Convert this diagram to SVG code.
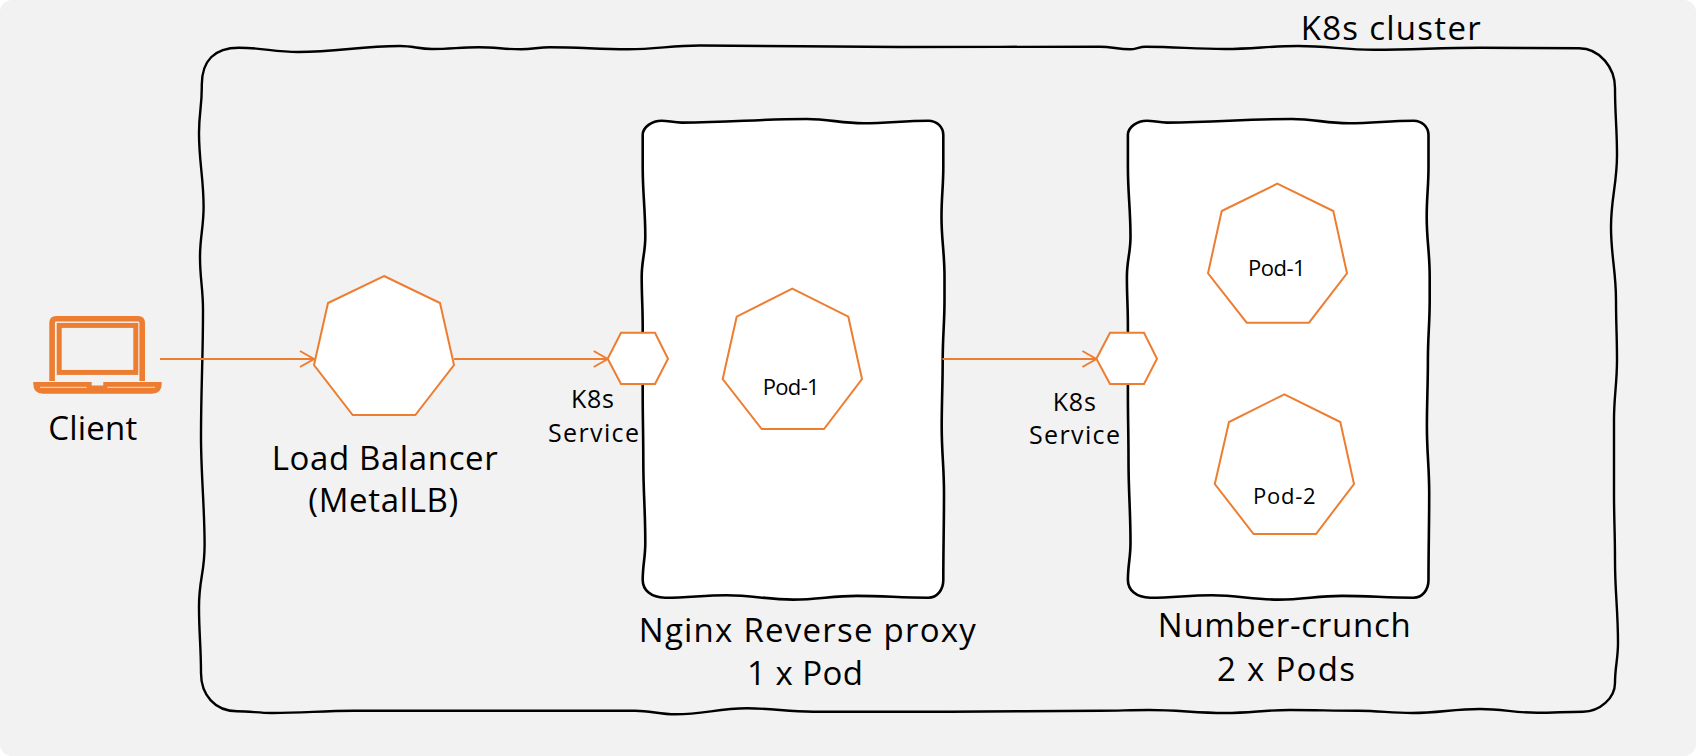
<svg xmlns="http://www.w3.org/2000/svg" width="1696" height="756" viewBox="0 0 1696 756">
<style>
.o{fill:#fff;stroke:#ED7D31;stroke-width:2;stroke-linejoin:miter}
.b{fill:#fff;stroke:#000;stroke-width:2.6;stroke-linejoin:round}
.c{fill:none;stroke:#ED7D31;stroke-width:2}
text{font-family:"Open Sans","Noto Sans",sans-serif;fill:#000;font-weight:500}
.l{font-size:33px}.m{font-size:25px}.s{font-size:22px}
</style>
<defs>
<marker id="a" markerUnits="userSpaceOnUse" markerWidth="16" markerHeight="18" refX="15" refY="9" orient="auto" overflow="visible"><path d="M1,1 L15,9 L1,17" fill="none" stroke="#ED7D31" stroke-width="2"/></marker>
<path id="box" d="M661.7,120.7 C668,120.7 674,122.6 681.7,122.6 C732,122.6 756,119 806.7,119 C829,119 841,123.3 863.3,123.3 C889,123.3 903,120.7 928.3,120.7 C937,120.7 943.3,127 943.3,135 C943.3,148 943.3,154 943.3,166.7 C943.3,187 941.5,196 941.5,216.7 C941.5,241 944.5,252 944.5,276.7 C944.5,286 944.5,290 944.5,300 C944.5,324 942.7,336 942.7,360 C942.7,387 941.7,400 941.7,426.7 C941.7,453 944,467 944,493 C944,528 943.3,545 943.3,580 C943.3,590 937,597.7 928.3,597.7 C900,597.7 885,595.9 856.7,595.9 C832,595.9 818,599.6 793.3,599.6 C767,599.6 753,595.3 726.7,595.3 C702,595.3 690,597.7 665,597.7 C651,597.7 642.7,590 642.7,580 C642.7,565 645.3,558 645.3,543 C645.3,510 643.3,493 643.3,460 C643.3,433 642.7,420 642.7,393 C642.7,366 642.7,353 642.7,326.7 C642.7,306 641.7,297 641.7,276.7 C641.7,260 645.3,253 645.3,236.7 C645.3,209 642.7,194 642.7,166.7 C642.7,154 642.7,148 642.7,135 C642.7,127 652,120.7 661.7,120.7 Z"/>
</defs>
<rect width="1696" height="756" rx="12" fill="#f2f2f2"/>
<g id="cluster">
<path d="M239,47.7 C263,47.7 274,52 298,52 C339,52 359,46 400,46 C413,46 419,49 432,49 C451,49 460,47.3 478.6,47.3 C496,47.3 504,49.3 521,49.3 C533,49.3 538,47.3 550,47.3 C581,47.3 597,49.3 628,49.3 C657,49.3 671,45.5 700,45.5 C780,45.5 820,47 900,47 C980,47 1020,46.7 1100,46.7 C1112,46.7 1118,49.3 1130,49.3 C1136,49.3 1139,46.7 1145.6,46.7 C1177,46.7 1193,49 1225,49 C1254,49 1269,46 1298,46 C1328,46 1344,49.7 1374,49.7 C1416,49.7 1438,47.7 1480,47.7 C1520,47.7 1539,48.3 1579,48.3 C1600,48.3 1615,68 1615,88 C1615,115 1617,128 1617,155 C1617,184 1611,198 1611,227 C1611,256 1616,271 1616,300 C1616,324 1617,336 1617,360 C1617,384 1614,396 1614,420 C1614,449 1614,464 1614,493 C1614,520 1615,533 1615,560 C1615,593 1618,610 1618,643 C1618,659 1615,667 1615,683 C1615,698 1600,711.7 1583,711.7 C1565,711.7 1555,712.7 1537,712.7 C1514,712.7 1503,709 1480,709 C1453,709 1439,713 1412,713 C1390,713 1380,710.7 1358,710.7 C1331,710.7 1317,710 1290,710 C1264,710 1251,713 1225,713 C1195,713 1179,710 1149,710 C1129,710 1120,710.7 1100,710.7 C1040,710.7 1010,711.7 950,711.7 C895,711.7 868,711.7 813,711.7 C787,711.7 773,708.3 747,708.3 C718,708.3 704,714.3 675.5,714.3 C659,714.3 651,710.7 635,710.7 C523,710.7 466,710.7 354,710.7 C321,710.7 305,713 272,713 C258,713 251,711.3 237,711.3 C215,711.3 201,695 201,673 C201,647 199,633 199,607 C199,578 204.6,574 204.6,545 C204.6,508 201,474 201,437 C201,386 203,361 203,310 C203,288 200,279 200,257 C200,237 203.6,227 203.6,207 C203.6,178 199,162 199,133 C199,113 201.8,107 201.8,87 C201,60 215,47.7 239,47.7 Z" fill="none" stroke="#000" stroke-width="2.4"/>
<text class="l" x="1300.7" y="40" textLength="180">K8s cluster</text>
</g>
<g id="nginx">
<use href="#box" class="b"/>
<text class="l" x="638.8" y="641.7" textLength="337">Nginx Reverse proxy</text>
<text class="l" x="747" y="685" textLength="116">1 x Pod</text>
</g>
<g id="number-crunch">
<use href="#box" class="b" transform="translate(485.2 0)"/>
<text class="l" x="1157.8" y="637.3" textLength="253">Number-crunch</text>
<text class="l" x="1217" y="680.7" textLength="138">2 x Pods</text>
</g>
<g id="connectors">
<line class="c" x1="160" y1="359" x2="314" y2="359" marker-end="url(#a)"/>
<line class="c" x1="454" y1="359" x2="607.7" y2="359" marker-end="url(#a)"/>
<line class="c" x1="942.5" y1="359" x2="1096.4" y2="359" marker-end="url(#a)"/>
</g>
<g id="client">
<path d="M52.1,381 V323 Q52.1,318.8 56.3,318.8 H138 Q142.2,318.8 142.2,323 V381" fill="none" stroke="#ED7D31" stroke-width="5.6"/>
<rect x="59.2" y="325.4" width="76.6" height="47" fill="none" stroke="#ED7D31" stroke-width="5"/>
<path d="M33.3,382 H91.7 V385.5 H103.3 V382 H161.7 V384 Q161.7,393.7 152,393.7 H43 Q33.3,393.7 33.3,384 Z" fill="#ED7D31"/>
<path d="M40,387.3 H86.7 M107.3,387.3 H155" stroke="#F9DCC8" stroke-width="1" fill="none"/>
<text class="l" x="48.3" y="440" textLength="89">Client</text>
</g>
<g id="load-balancer">
<polygon class="o" points="384,276 440,303 454,365 415.3,415 352.7,415 314,365 328,303"/>
<text class="l" x="271.7" y="470" textLength="226">Load Balancer</text>
<text class="l" x="308.3" y="512" textLength="150">(MetalLB)</text>
</g>
<g id="service-1">
<polygon class="o" points="607.7,358.7 621,332.7 655,332.7 668,358.7 655,384 621,384"/>
<text class="m" x="571" y="408" textLength="43">K8s</text>
<text class="m" x="548" y="442" textLength="91">Service</text>
</g>
<g id="service-2">
<polygon class="o" points="1096.4,358.7 1110,332.7 1144,332.7 1157,358.7 1144,384 1110,384"/>
<text class="m" x="1052.8" y="411" textLength="43">K8s</text>
<text class="m" x="1029" y="444" textLength="91">Service</text>
</g>
<g id="nginx-pod-1">
<polygon class="o" points="792.3,288.7 848.3,316.7 862,379 824,429 761.7,429 722.7,379 736.7,316.7"/>
<text class="s" x="762.7" y="395" textLength="57">Pod-1</text>
</g>
<g id="number-pod-1">
<polygon class="o" points="1277.3,183.7 1333.3,211 1347,273.3 1309,322.7 1246.7,322.7 1208,273.3 1221.7,211"/>
<text class="s" x="1248" y="275.7" textLength="57.7">Pod-1</text>
</g>
<g id="number-pod-2">
<polygon class="o" points="1284.4,394.3 1340.3,422 1354,484 1316,534 1253.6,534 1214.8,484 1229,422"/>
<text class="s" x="1253" y="504" textLength="62.6">Pod-2</text>
</g>
</svg>
